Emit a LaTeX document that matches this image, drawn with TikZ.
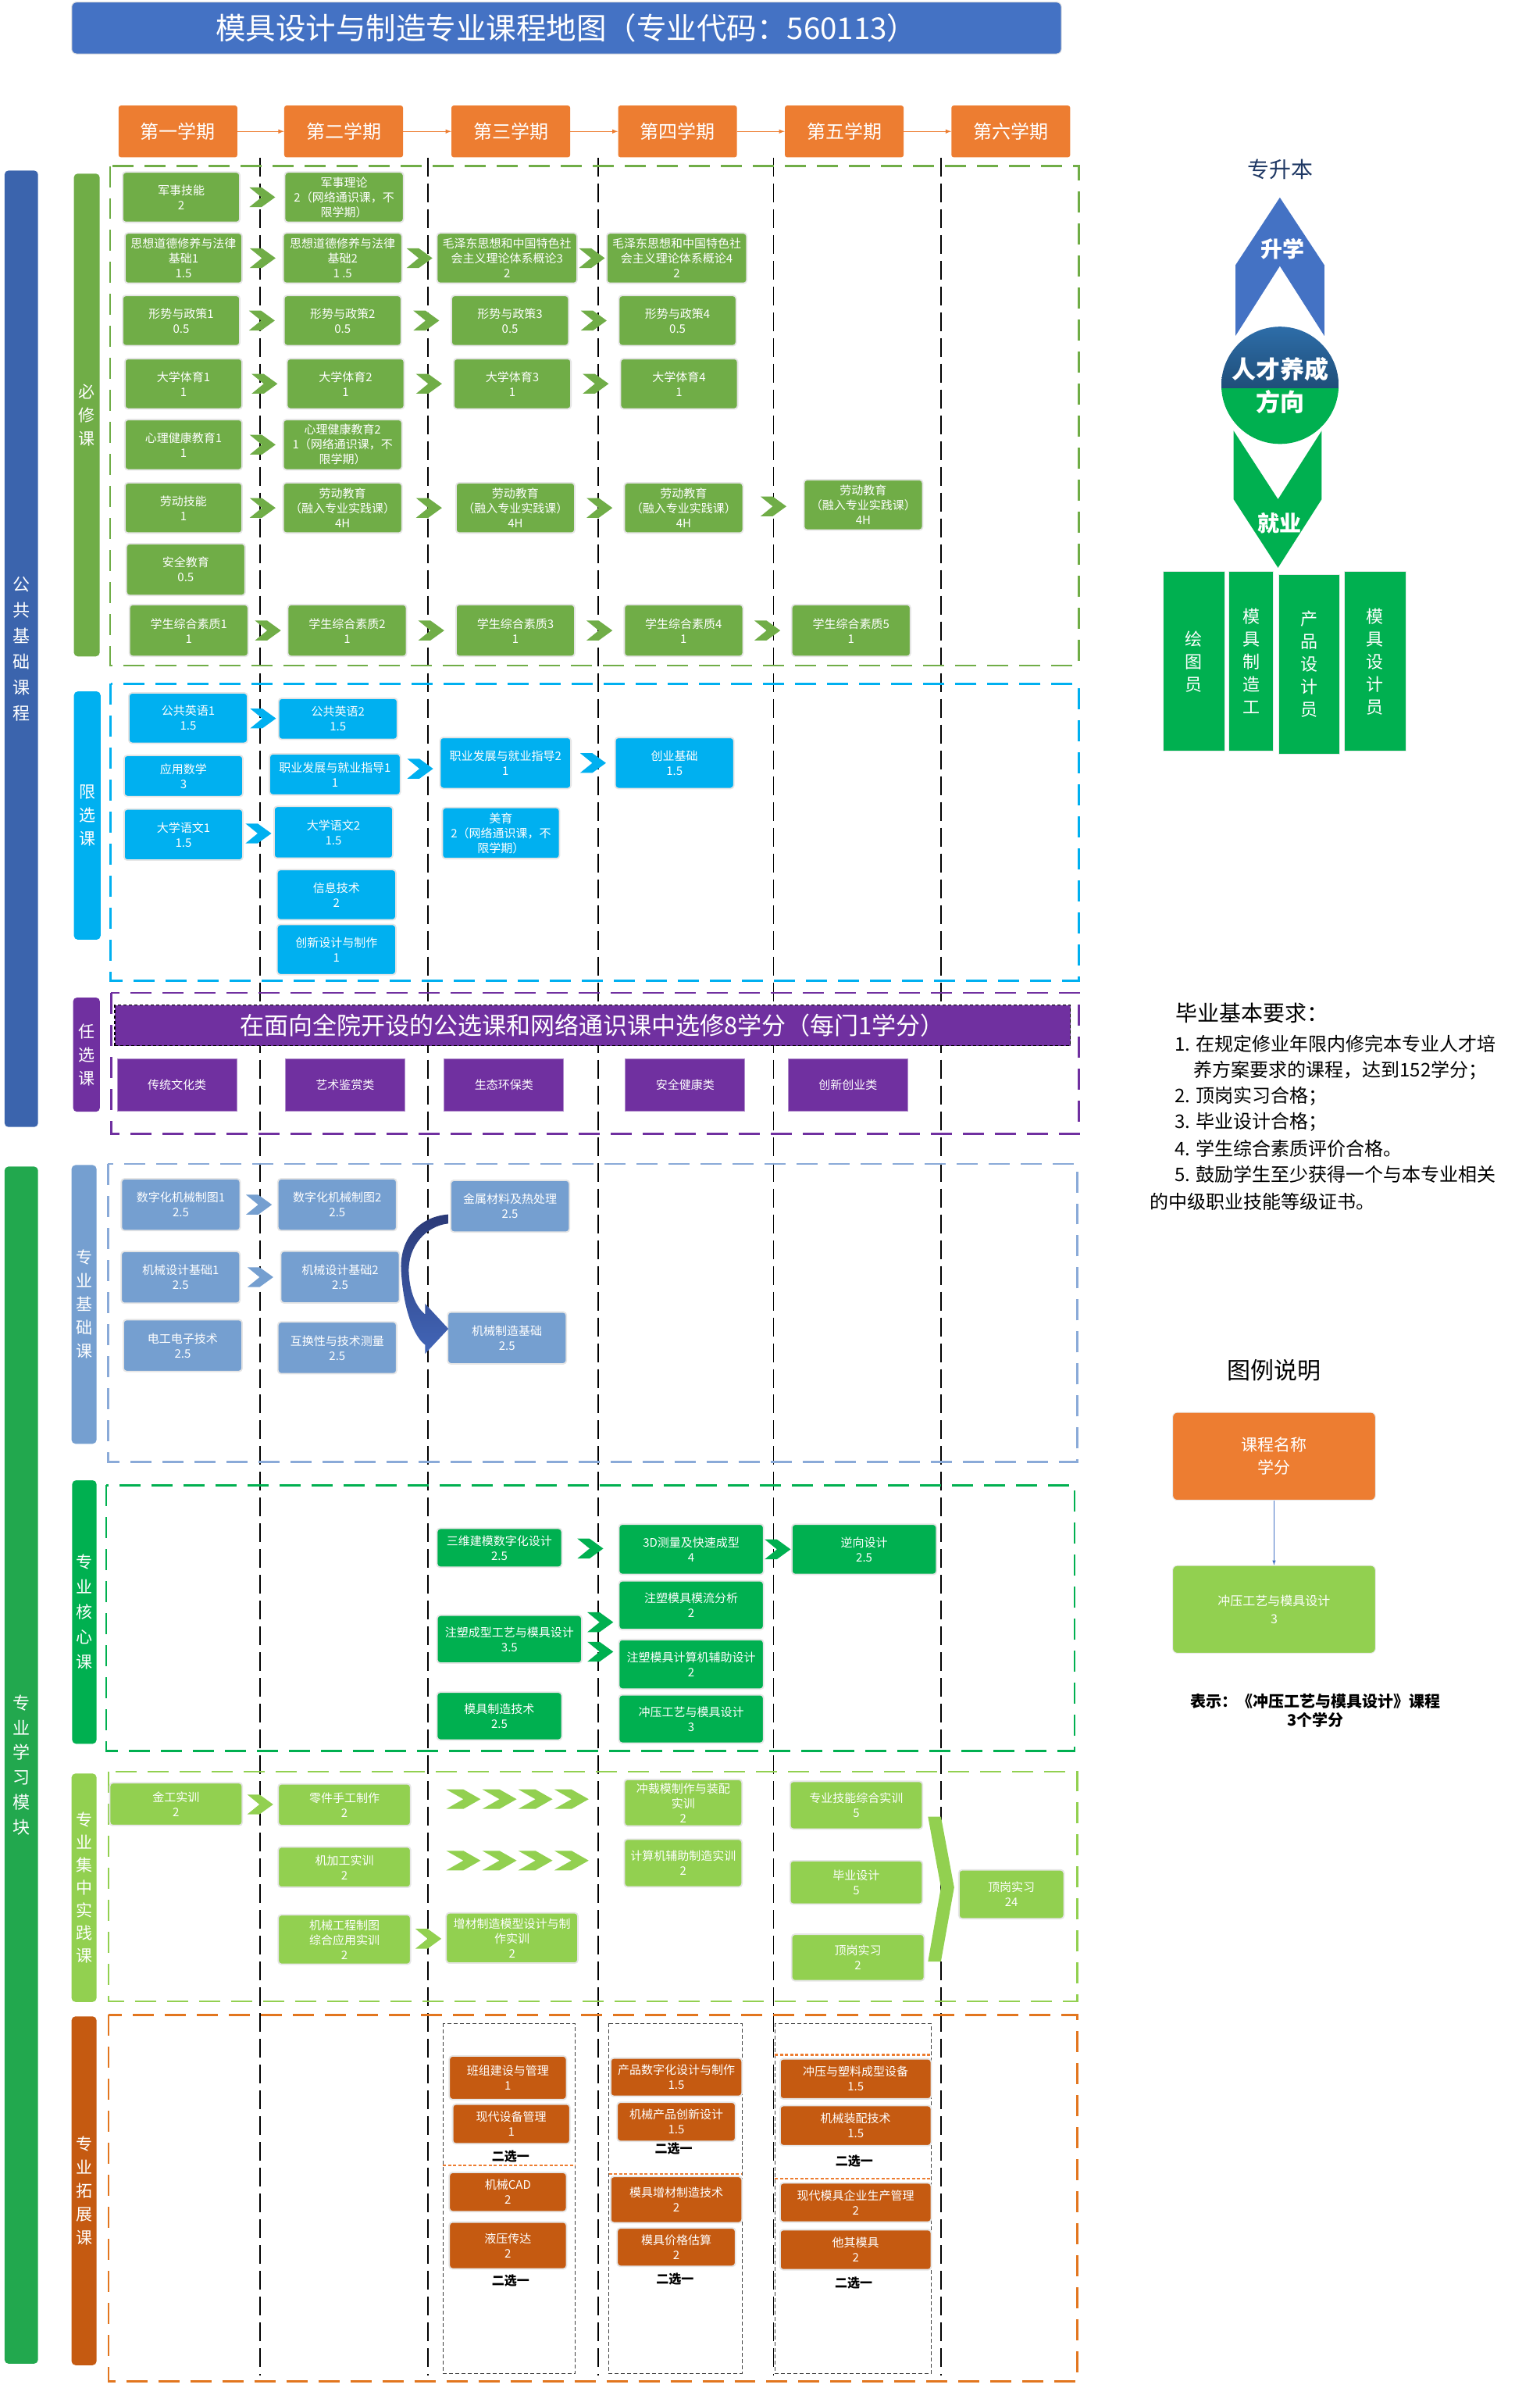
\documentclass[tikz,border=0pt]{standalone}
\usepackage{fontspec}
\setmainfont{Noto Sans CJK SC}
\usetikzlibrary{calc}

\definecolor{cTitle}{HTML}{4472C4}
\definecolor{cSem}{HTML}{ED7D31}
\definecolor{cPub}{HTML}{3B64AD}
\definecolor{cPro}{HTML}{22A84E}
\definecolor{cReq}{HTML}{70AD47}
\definecolor{cLim}{HTML}{00B0F0}
\definecolor{cOpt}{HTML}{7030A0}
\definecolor{cBas}{HTML}{759FD0}
\definecolor{cBasL}{HTML}{8AAAD8}
\definecolor{cCore}{HTML}{00B050}
\definecolor{cPrac}{HTML}{92D050}
\definecolor{cExt}{HTML}{C55A11}
\definecolor{cExtL}{HTML}{E2761F}
\definecolor{cNavy}{HTML}{1F3864}
\definecolor{cArcTop}{HTML}{2B3A78}
\definecolor{cArcBot}{HTML}{4266B8}
\definecolor{cBall}{HTML}{2E6EAA}
\definecolor{cBallD}{HTML}{1F4E79}

\tikzset{
    sz/.style 2 args={minimum width=#1*1.95pt, minimum height=#2*1.95pt},
    cbox/.style={rounded corners=4pt, text=white, align=center, inner sep=0pt,
        draw=black!10, line width=1.8pt, font=\fontsize{15}{19}\selectfont},
    reqbox/.style={cbox, fill=cReq, sz={77}{33}},
    limbox/.style={cbox, fill=cLim, sz={78}{33}},
    basbox/.style={cbox, fill=cBas, sz={78}{34}},
    corebox/.style={cbox, fill=cCore, sz={95}{32}},
    pracbox/.style={cbox, fill=cPrac, sz={87}{30}},
    extbox/.style={cbox, fill=cExt, sz={77}{26}},
    sem/.style={rounded corners=3pt, fill=cSem, text=white, inner sep=0pt, sz={78}{34},
        font=\fontsize{24}{28}\selectfont},
    catbar/.style={rounded corners=5pt, text=white, align=center, inner sep=0pt,
        font=\fontsize{21}{30}\selectfont},
    zone/.style={line width=2.5pt, dash pattern=on 27pt off 14pt},
    colsep/.style={black, line width=1.8pt, dash pattern=on 24pt off 9pt},
    optcat/.style={fill=cOpt, draw=cOpt!55, line width=1pt, text=white, inner sep=0pt,
        sz={78.5}{34.5}, font=\fontsize{15}{19}\selectfont},
    job/.style={fill=cCore, draw=black!8, line width=1pt, text=white, align=center,
        inner sep=0pt, font=\fontsize{22}{29}\selectfont},
    choice/.style={inner sep=0pt, font=\bfseries\fontsize{16}{19}\selectfont},
    reqtxt/.style={inner sep=0pt, anchor=west, font=\fontsize{24}{28}\selectfont},
    chev/.pic={\fill[pic actions] (-8.5,-6.5) -- (-0.5,-6.5) -- (8.5,0) -- (-0.5,6.5)
        -- (-8.5,6.5) -- (-0.5,0) -- cycle;},
    chevw/.pic={\fill[pic actions] (-11.25,-6.4) -- (0,-6.4) -- (11.25,0) -- (0,6.4)
        -- (-11.25,6.4) -- (0,0) -- cycle;}
}

\begin{document}
\begin{tikzpicture}[x=1.95pt, y=-1.95pt, >=latex]
    % 0. 画布
    \useasboundingbox (0,0) rectangle (1011,1568);
    \fill[white] (0,0) rectangle (1011,1568);

    % 1. 标题
    \node[rounded corners=6pt, fill=cTitle, draw=black!12, line width=1pt, text=white,
        inner sep=0pt, sz={650}{34}, font=\fontsize{38.5}{44}\selectfont] (title)
        at (372.1,18.4) {模具设计与制造专业课程地图（专业代码：560113）};

    % 2. 学期
    \node[sem] (s1) at (116.9,86.3) {第一学期};
    \node[sem] (s2) at (225.7,86.3) {第二学期};
    \node[sem] (s3) at (335.5,86.3) {第三学期};
    \node[sem] (s4) at (445,86.3) {第四学期};
    \node[sem] (s5) at (554.5,86.3) {第五学期};
    \node[sem] (s6) at (663.9,86.3) {第六学期};
    \foreach \a/\b in {s1/s2,s2/s3,s3/s4,s4/s5,s5/s6}
        \draw[->, cSem, line width=1.5pt] (\a) -- (\b);

    % 3. 学期分隔线与模块虚线框
    \foreach \x in {171,281,393,508,618}
        \draw[colsep] (\x,103.5) -- (\x,1560);
    \draw[zone, cReq] (72.4,109) rectangle (708.7,437);
    \draw[zone, cLim] (72.7,449) rectangle (708.7,644);
    \draw[zone, cOpt] (73,652) rectangle (708.6,744.5);
    \draw[zone, cBasL] (71,764.3) rectangle (707.5,960);
    \draw[zone, cCore] (69.8,975.2) rectangle (705.7,1149.6);
    \draw[zone, cPrac] (71.3,1163.2) rectangle (707.5,1314.2);
    \draw[zone, cExtL] (71.3,1323) rectangle (707.5,1563.7);

    % 4. 左侧分类条
    \node[catbar, fill=cPub, sz={22}{628}, font=\fontsize{22}{33}\selectfont] (pub)
        at (14,426) {公\\共\\基\\础\\课\\程};
    \node[catbar, fill=cPro, sz={22}{786}, font=\fontsize{22}{32}\selectfont] (pro)
        at (14,1159) {专\\业\\学\\习\\模\\块};
    \node[catbar, fill=cReq, sz={17}{317}] (kReq) at (57,272.5) {必\\修\\课};
    \node[catbar, fill=cLim, sz={17.5}{163}] (kLim) at (57.3,535.5) {限\\选\\课};
    \node[catbar, fill=cOpt, sz={17.6}{75}] (kOpt) at (56.8,692.5) {任\\选\\课};
    \node[catbar, fill=cBas, sz={16.4}{183}] (kBas) at (55.2,856.5) {专\\业\\基\\础\\课};
    \node[catbar, fill=cCore, sz={16}{173}, font=\fontsize{21}{32}\selectfont] (kCore)
        at (55.4,1058.5) {专\\业\\核\\心\\课};
    \node[catbar, fill=cPrac, sz={16.4}{150}, font=\fontsize{21}{29}\selectfont] (kPrac)
        at (55.2,1239.5) {专\\业\\集\\中\\实\\践\\课};
    \node[catbar, fill=cExt, sz={16.4}{229}] (kExt) at (55.2,1438.5) {专\\业\\拓\\展\\课};

    % 5. 必修课
    \node[reqbox] (m11) at (119,129.5) {军事技能\\2};
    \node[reqbox, sz={78}{33}] (m12) at (226,129.5) {军事理论\\2（网络通识课，不\\限学期）};
    \node[reqbox] (m21) at (120.5,169.5) {思想道德修养与法律\\基础1\\1.5};
    \node[reqbox, sz={78}{33}] (m22) at (225,169.5) {思想道德修养与法律\\基础2\\1 .5};
    \node[reqbox, sz={92}{33}] (m23) at (333,169.5) {毛泽东思想和中国特色社\\会主义理论体系概论3\\2};
    \node[reqbox, sz={92}{33}] (m24) at (444.5,169.5) {毛泽东思想和中国特色社\\会主义理论体系概论4\\2};
    \node[reqbox] (m31) at (119,210.5) {形势与政策1\\0.5};
    \node[reqbox] (m32) at (225,210.5) {形势与政策2\\0.5};
    \node[reqbox] (m33) at (335,210.5) {形势与政策3\\0.5};
    \node[reqbox] (m34) at (445,210.5) {形势与政策4\\0.5};
    \node[reqbox] (m41) at (120.5,252) {大学体育1\\1};
    \node[reqbox] (m42) at (227,252) {大学体育2\\1};
    \node[reqbox] (m43) at (336.5,252) {大学体育3\\1};
    \node[reqbox] (m44) at (446,252) {大学体育4\\1};
    \node[reqbox] (m51) at (120.5,292) {心理健康教育1\\1};
    \node[reqbox, sz={78}{33}] (m52) at (225,292) {心理健康教育2\\1（网络通识课，不\\限学期）};
    \node[reqbox] (m61) at (120.5,333.5) {劳动技能\\1};
    \node[reqbox, sz={78}{33}] (m62) at (225,333.5) {劳动教育\\（融入专业实践课）\\4H};
    \node[reqbox, sz={78}{33}] (m63) at (338.5,333.5) {劳动教育\\（融入专业实践课）\\4H};
    \node[reqbox, sz={78}{33}] (m64) at (449,333.5) {劳动教育\\（融入专业实践课）\\4H};
    \node[reqbox, sz={78}{33}] (m65) at (567,331.5) {劳动教育\\（融入专业实践课）\\4H};
    \node[reqbox, sz={78}{34}] (m71) at (122,374) {安全教育\\0.5};
    \node[reqbox, sz={78}{34}] (m81) at (124,414) {学生综合素质1\\1};
    \node[reqbox, sz={78}{34}] (m82) at (228,414) {学生综合素质2\\1};
    \node[reqbox, sz={78}{34}] (m83) at (338.5,414) {学生综合素质3\\1};
    \node[reqbox, sz={78}{34}] (m84) at (449,414) {学生综合素质4\\1};
    \node[reqbox, sz={78}{34}] (m85) at (559,414) {学生综合素质5\\1};
    \foreach \a/\b in {m11/m12,m21/m22,m22/m23,m23/m24,m31/m32,m32/m33,m33/m34,
        m41/m42,m42/m43,m43/m44,m51/m52,m61/m62,m62/m63,m63/m64,m64/m65,
        m81/m82,m82/m83,m83/m84,m84/m85}
        \path ($(\a.east)!0.5!(\b.west)$) pic[fill=cReq] {chev};

    % 6. 限选课
    \node[limbox] (l11) at (123.6,471.5) {公共英语1\\1.5};
    \node[limbox, sz={78}{27}] (l12) at (222,472) {公共英语2\\1.5};
    \node[limbox, sz={78}{27}] (l21) at (120.5,509.5) {应用数学\\3};
    \node[limbox, sz={86}{27}] (l22) at (220,508.5) {职业发展与就业指导1\\1};
    \node[limbox, sz={86}{33.5}] (l23) at (332,501) {职业发展与就业指导2\\1};
    \node[limbox, sz={78}{33.5}] (l24) at (443,501) {创业基础\\1.5};
    \node[limbox, sz={78}{33.5}] (l31) at (120.5,548) {大学语文1\\1.5};
    \node[limbox, sz={78}{34}] (l32) at (219,546.5) {大学语文2\\1.5};
    \node[limbox, sz={77}{33.5}] (l33) at (329,547) {美育\\2（网络通识课，不\\限学期）};
    \node[limbox] (l41) at (221,587.5) {信息技术\\2};
    \node[limbox] (l51) at (221,623.5) {创新设计与制作\\1};
    \foreach \a/\b in {l11/l12,l22/l23,l23/l24,l31/l32}
        \path ($(\a.east)!0.5!(\b.west)$) pic[fill=cLim] {chev};

    % 7. 任选课
    \node[fill=cOpt, draw=black, line width=1.2pt, dash pattern=on 4pt off 3pt,
        text=white, inner sep=0pt, sz={627.6}{26.6}, font=\fontsize{31}{36}\selectfont]
        (optall) at (389.2,673.3) {在面向全院开设的公选课和网络通识课中选修8学分（每门1学分）};
    \node[optcat] (o1) at (116.2,712.3) {传统文化类};
    \node[optcat] (o2) at (226.6,712.3) {艺术鉴赏类};
    \node[optcat] (o3) at (331,712.3) {生态环保类};
    \node[optcat] (o4) at (450,712.3) {安全健康类};
    \node[optcat] (o5) at (557,712.3) {创新创业类};

    % 8. 专业基础课
    \node[basbox] (b11) at (118.7,791) {数字化机械制图1\\2.5};
    \node[basbox] (b12) at (221.5,791) {数字化机械制图2\\2.5};
    \node[basbox] (b13) at (335,792) {金属材料及热处理\\2.5};
    \node[basbox] (b21) at (118.6,838.7) {机械设计基础1\\2.5};
    \node[basbox] (b22) at (223.4,838.5) {机械设计基础2\\2.5};
    \node[basbox] (b31) at (120,883.5) {电工电子技术\\2.5};
    \node[basbox] (b32) at (221.5,885) {互换性与技术测量\\2.5};
    \node[basbox] (b23) at (333,878.5) {机械制造基础\\2.5};
    \foreach \a/\b in {b11/b12,b21/b22}
        \path ($(\a.east)!0.5!(\b.west)$) pic[fill=cBas] {chev};
    % 弯箭头
    \shade[top color=cArcTop, bottom color=cArcBot]
        (294.3,797.4) .. controls (274,799) and (262,815) .. (263.5,835)
        .. controls (265,860) and (272,878) .. (279.2,883)
        -- (279.2,888.9) -- (294.5,872.5) -- (279.2,856) -- (279.2,863)
        .. controls (273,858) and (269,848) .. (268.5,835)
        .. controls (268,818) and (280,805) .. (294.3,803.4) -- cycle;

    % 9. 专业核心课
    \node[corebox, sz={82}{25.5}] (c1) at (328,1016.3) {三维建模数字化设计\\2.5};
    \node[corebox, sz={95}{33}] (c2) at (454,1017.3) {3D测量及快速成型\\4};
    \node[corebox, sz={95}{33}] (c3) at (567.6,1017.3) {逆向设计\\2.5};
    \node[corebox] (c4) at (454,1054) {注塑模具模流分析\\2};
    \node[corebox, sz={95}{31.4}] (c5) at (334.6,1076.3) {注塑成型工艺与模具设计\\3.5};
    \node[corebox, sz={95}{32.5}] (c6) at (454,1092.8) {注塑模具计算机辅助设计\\2};
    \node[corebox, sz={82}{31.4}] (c7) at (328,1126.8) {模具制造技术\\2.5};
    \node[corebox, sz={95}{31.7}] (c8) at (454,1128.7) {冲压工艺与模具设计\\3};
    \foreach \a/\b in {c1/c2,c2/c3,c5/c4,c5/c6}
        \path ($(\a.east)!0.5!(\b.west)$) pic[fill=cCore] {chev};

    % 10. 专业集中实践课
    \node[pracbox, sz={87}{28}] (p1) at (115.6,1184.6) {金工实训\\2};
    \node[pracbox, sz={87}{27.3}] (p2) at (226.2,1185) {零件手工制作\\2};
    \node[pracbox, sz={87}{26.5}] (p3) at (226.2,1226) {机加工实训\\2};
    \node[pracbox, sz={87}{32.4}] (p4) at (226.2,1273.5) {机械工程制图\\综合应用实训\\2};
    \node[pracbox, sz={86.5}{33}] (p5) at (336.3,1272.5) {增材制造模型设计与制\\作实训\\2};
    \node[pracbox, sz={77.3}{30.6}] (p6) at (448.7,1183.7) {冲裁模制作与装配\\实训\\2};
    \node[pracbox, sz={77.3}{31.3}] (p7) at (448.7,1223.3) {计算机辅助制造实训\\2};
    \node[pracbox, sz={87}{31.3}] (p8) at (562.4,1185.3) {专业技能综合实训\\5};
    \node[pracbox, sz={87}{28.5}] (p9) at (562.4,1236) {毕业设计\\5};
    \node[pracbox, sz={87}{30.5}] (p10) at (563.5,1285.3) {顶岗实习\\2};
    \node[pracbox, sz={69}{32}] (p11) at (664.3,1243.8) {顶岗实习\\24};
    \foreach \a/\b in {p1/p2,p4/p5}
        \path ($(\a.east)!0.5!(\b.west)$) pic[fill=cPrac] {chev};
    \foreach \a/\b in {p2/p6,p3/p7}
        \foreach \d in {-35.5,-11.8,11.8,35.5}
            \path ($(\a.east)!0.5!(\b.west)$) ++(\d,-3) pic[fill=cPrac] {chevw};
    % 汇合箭头
    \fill[cPrac] (609.5,1192.8) -- (618,1192.8) -- (626.7,1239.3) -- (618,1288)
        -- (609.5,1288) -- (618,1239.3) -- cycle;

    % 11. 专业拓展课
    \foreach \xa/\xb in {291/377.7,400/487.3,509/611.6}
        \draw[black!75, line width=1pt, dash pattern=on 5pt off 3pt]
            (\xa,1328.6) rectangle (\xb,1558.6);
    \draw[cSem, line width=2.5pt, dash pattern=on 4pt off 2.5pt] (291,1421.7) -- (377.7,1421.7);
    \draw[cSem, line width=2.5pt, dash pattern=on 4pt off 2.5pt] (400,1427.4) -- (487.3,1427.4);
    \draw[cSem, line width=2.5pt, dash pattern=on 4pt off 2.5pt] (509,1349.2) -- (611.6,1349.2);
    \draw[cSem, line width=2.5pt, dash pattern=on 4pt off 2.5pt] (509,1430.4) -- (611.6,1430.4);
    \node[extbox, sz={77}{28.6}] (e1) at (333.6,1364.3) {班组建设与管理\\1};
    \node[extbox] (e2) at (335.8,1394.6) {现代设备管理\\1};
    \node[choice] (t1) at (335.4,1416.2) {二选一};
    \node[extbox, sz={77}{25.7}] (e3) at (333.6,1439.3) {机械CAD\\2};
    \node[extbox, sz={77}{30.7}] (e4) at (333.6,1474.4) {液压传达\\2};
    \node[choice] (t2) at (335.4,1497.4) {二选一};
    \node[extbox, sz={86.3}{25.1}] (e5) at (444.2,1363.9) {产品数字化设计与制作\\1.5};
    \node[extbox, sz={77.7}{25.7}] (e6) at (444.2,1393.2) {机械产品创新设计\\1.5};
    \node[choice] (t3) at (442.4,1410.6) {二选一};
    \node[extbox, sz={86.3}{30.4}] (e7) at (444.2,1444.3) {模具增材制造技术\\2};
    \node[extbox, sz={77.7}{25.1}] (e8) at (444.2,1475.5) {模具价格估算\\2};
    \node[choice] (t4) at (443.3,1496.6) {二选一};
    \node[extbox, sz={99.3}{26.3}] (e9) at (562,1365) {冲压与塑料成型设备\\1.5};
    \node[extbox, sz={99.3}{26.3}] (e10) at (562,1395.7) {机械装配技术\\1.5};
    \node[choice] (t5) at (561.1,1418.8) {二选一};
    \node[extbox, sz={99.3}{25.7}] (e11) at (562,1446.2) {现代模具企业生产管理\\2};
    \node[extbox, sz={99.3}{26.3}] (e12) at (562,1477.2) {他其模具\\2};
    \node[choice] (t6) at (560.7,1499.1) {二选一};

    % 12. 人才养成方向
    \node[text=cNavy, inner sep=0pt, font=\fontsize{28}{32}\selectfont] (zsb)
        at (841,111) {专升本};
    \fill[cTitle] (811.5,174) -- (840.6,129.7) -- (869.8,174) -- (869.8,220.5)
        -- (840.6,174.7) -- (811.5,220.5) -- cycle;
    \fill[cCore] (810.2,282.8) -- (839.4,327.8) -- (868.1,282.8) -- (868.1,327.8)
        -- (839.4,372.8) -- (810.2,327.8) -- cycle;
    \begin{scope}
        \clip (840.7,253) circle [radius=38.5];
        \shade[top color=cBall, bottom color=cBallD] (800,213) rectangle (882,255);
        \fill[cCore] (800,255) rectangle (882,294);
    \end{scope}
    \node[text=white, inner sep=0pt, font=\bfseries\fontsize{28}{32}\selectfont] (up)
        at (842.5,163.5) {升学};
    \node[text=white, inner sep=0pt, align=center, font=\bfseries\fontsize{31}{42}\selectfont]
        (aim) at (841,252.9) {人才养成\\方向};
    \node[text=white, inner sep=0pt, font=\bfseries\fontsize{28}{32}\selectfont] (down)
        at (840.3,343.5) {就业};
    \node[job, sz={40.3}{117.7}] (j1) at (784.2,434.3) {绘\\图\\员};
    \node[job, sz={29.1}{117.7}] (j2) at (821.8,434.3) {模\\具\\制\\造\\工};
    \node[job, sz={40.1}{118.2}] (j3) at (859.8,436.1) {产\\品\\设\\计\\员};
    \node[job, sz={40.4}{117.7}] (j4) at (903.1,434.3) {模\\具\\设\\计\\员};

    % 13. 毕业基本要求
    \node[reqtxt, font=\fontsize{28}{32}\selectfont] (g0) at (772.3,665) {毕业基本要求：};
    \node[reqtxt] (g1) at (771.5,685.6) {1. 在规定修业年限内修完本专业人才培};
    \node[reqtxt] (g2) at (784,702.6) {养方案要求的课程，达到152学分；};
    \node[reqtxt] (g3) at (771.5,719.7) {2. 顶岗实习合格；};
    \node[reqtxt] (g4) at (771.5,736.7) {3. 毕业设计合格；};
    \node[reqtxt] (g5) at (771.5,754.2) {4. 学生综合素质评价合格。};
    \node[reqtxt] (g6) at (771.5,771.3) {5. 鼓励学生至少获得一个与本专业相关};
    \node[reqtxt] (g7) at (755,788.9) {的中级职业技能等级证书。};

    % 14. 图例
    \node[inner sep=0pt, font=\fontsize{30}{34}\selectfont] (lt) at (837,900) {图例说明};
    \node[rounded corners=6pt, fill=cSem, draw=black!8, line width=1pt, text=white,
        align=center, inner sep=0pt, sz={133.2}{57.7}, font=\fontsize{21}{29}\selectfont]
        (lg1) at (836.8,956.2) {课程名称\\学分};
    \node[rounded corners=6pt, fill=cPrac, draw=black!8, line width=1pt, text=white,
        align=center, inner sep=0pt, sz={133.2}{57.6}, font=\fontsize{16}{23}\selectfont]
        (lg2) at (836.8,1056.7) {冲压工艺与模具设计\\3};
    \draw[->, cTitle, line width=1pt] (lg1) -- (lg2);
    \node[inner sep=0pt, align=center, font=\bfseries\fontsize{20}{24.5}\selectfont]
        (lnote) at (864,1123.3) {表示：《冲压工艺与模具设计》课程\\3个学分};
\end{tikzpicture}
\end{document}
